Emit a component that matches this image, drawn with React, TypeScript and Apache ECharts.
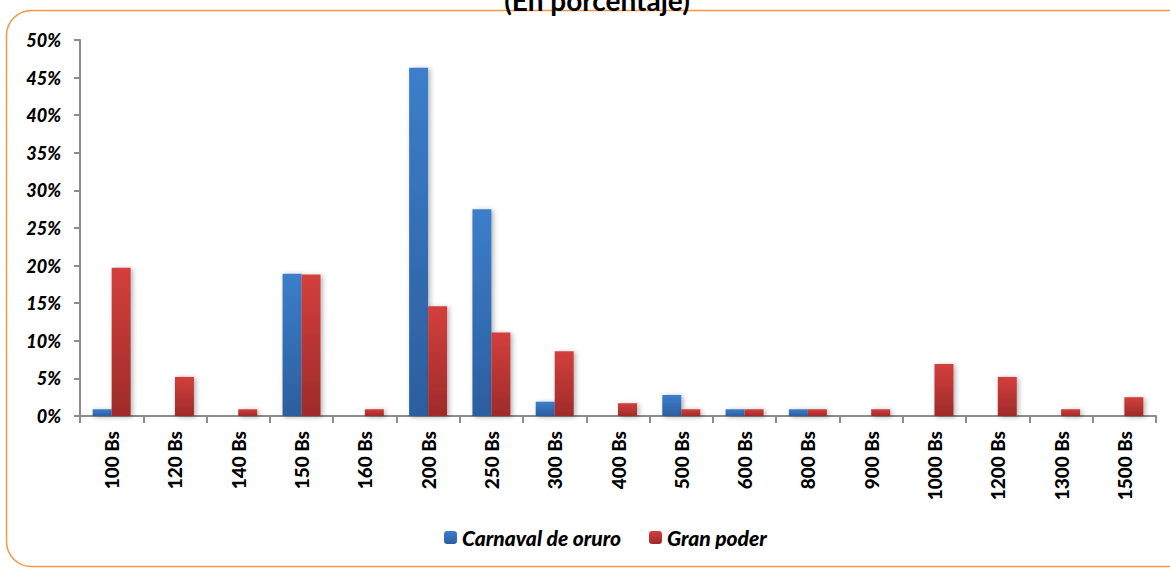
import React, { useEffect, useRef } from "react";
import * as echarts from "echarts";

const categories = ["100 Bs", "120 Bs", "140 Bs", "150 Bs", "160 Bs", "200 Bs", "250 Bs", "300 Bs", "400 Bs", "500 Bs", "600 Bs", "800 Bs", "900 Bs", "1000 Bs", "1200 Bs", "1300 Bs", "1500 Bs"];
const carnavalOruro = [0.9, 0, 0, 18.9, 0, 46.3, 27.5, 1.9, 0, 2.8, 0.9, 0.9, 0, 0, 0, 0, 0];
const granPoder = [19.7, 5.2, 0.9, 18.8, 0.9, 14.6, 11.1, 8.6, 1.7, 0.9, 0.9, 0.9, 0.9, 6.9, 5.2, 0.9, 2.5];
const seriesNames = ["Carnaval de oruro", "Gran poder"];
const titleText = "(En porcentaje)";

const FONT = "Lato, 'Open Sans', sans-serif";

export default function App() {
  const ref = useRef<HTMLDivElement>(null);
  useEffect(() => {
    document.body.style.margin = "0";
    const chart = echarts.init(ref.current!, null, { renderer: "svg" });
    const blue = new echarts.graphic.LinearGradient(0, 0, 0, 1, [
      { offset: 0, color: "#3C7ECB" },
      { offset: 1, color: "#2C5E9E" },
    ]);
    const red = new echarts.graphic.LinearGradient(0, 0, 0, 1, [
      { offset: 0, color: "#D33F3C" },
      { offset: 1, color: "#9E2B2A" },
    ]);
    chart.setOption({
      animation: false,
      backgroundColor: "#ffffff",
      graphic: [
        {
          type: "rect",
          shape: { x: 6.5, y: 10.5, width: 1250, height: 556, r: 25 },
          style: { fill: "none", stroke: "#F79646", lineWidth: 1.5 },
          z: -1,
        },
        {
          type: "text",
          x: 597,
          y: 14,
          style: {
            text: titleText,
            font: `bold 28px ${FONT}`,
            fill: "#000",
            align: "center",
            verticalAlign: "bottom",
          },
        },
      ],
      grid: { left: 80, right: 14, top: 40, bottom: 152, containLabel: false },
      legend: {
        top: 522,
        left: 439,
        itemWidth: 13,
        itemHeight: 13,
        itemGap: 28,
        textStyle: { fontFamily: FONT, fontWeight: 900, fontStyle: "italic", fontSize: 21, color: "#000" },
        data: seriesNames,
      },
      xAxis: {
        type: "category",
        data: categories,
        axisLine: { lineStyle: { color: "#8c8c8c", width: 2 } },
        axisTick: { show: true, length: 7, lineStyle: { color: "#8c8c8c", width: 2 } },
        axisLabel: {
          rotate: 90,
          margin: 15,
          interval: 0,
          fontFamily: FONT,
          fontWeight: 900,
          fontSize: 19,
          color: "#000",
        },
      },
      yAxis: {
        type: "value",
        min: 0,
        max: 50,
        interval: 5,
        axisLine: { show: true, lineStyle: { color: "#8c8c8c", width: 2 } },
        axisTick: { show: true, length: 6, lineStyle: { color: "#8c8c8c", width: 2 } },
        splitLine: { lineStyle: { color: "#8c8c8c", width: 2, shadowColor: "rgba(0,0,0,0.25)", shadowBlur: 2, shadowOffsetY: 1 } },
        axisLabel: {
          formatter: "{value}%",
          margin: 19,
          fontFamily: FONT,
          fontWeight: 900,
          fontStyle: "italic",
          fontSize: 18,
          color: "#000",
        },
      },
      series: [
        {
          name: seriesNames[0],
          type: "bar",
          data: carnavalOruro,
          barWidth: 19,
          barGap: "0%",
          itemStyle: { color: blue, shadowColor: "rgba(0,0,0,0.3)", shadowBlur: 5, shadowOffsetX: 2, shadowOffsetY: 1 },
        },
        {
          name: seriesNames[1],
          type: "bar",
          data: granPoder,
          barWidth: 19,
          barGap: "0%",
          itemStyle: { color: red, shadowColor: "rgba(0,0,0,0.3)", shadowBlur: 5, shadowOffsetX: 2, shadowOffsetY: 1 },
        },
      ],
    });
    return () => chart.dispose();
  }, []);
  return <div ref={ref} style={{ width: 1170, height: 568 }} />;
}
